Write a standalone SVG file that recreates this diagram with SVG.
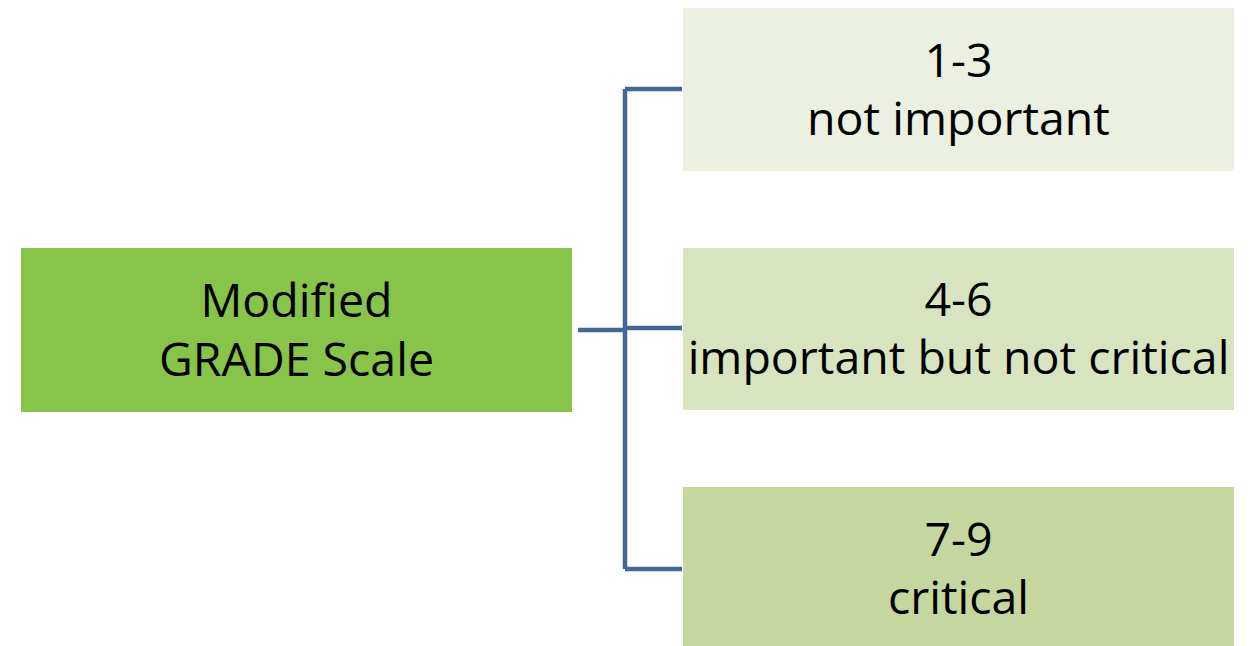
<svg xmlns="http://www.w3.org/2000/svg" width="1251" height="646" viewBox="0 0 1251 646">
<style>
.t{font-family:"Open Sans","Liberation Sans",sans-serif;font-size:46.5px;fill:#000;text-anchor:middle}
.c{fill:none;stroke:#416795;stroke-width:4.5}
</style>
<rect width="1251" height="646" fill="#fff"/>
<g id="connectors">
<path class="c" d="M578 330H625M625 89V569M625 89H682M625 328H682M625 569H682"/>
</g>
<g id="root">
<rect x="21" y="248" width="551" height="164" fill="#88C34A"/>
<text class="t" x="296.5" y="317">Modified</text>
<text class="t" x="296.5" y="376">GRADE Scale</text>
</g>
<g id="n1">
<rect x="683" y="8" width="551" height="163" fill="#EBF0E0"/>
<text class="t" x="958.5" y="77">1-3</text>
<text class="t" x="958.5" y="135">not important</text>
</g>
<g id="n2">
<rect x="683" y="248" width="551" height="162" fill="#D8E4C0"/>
<text class="t" x="958.5" y="316">4-6</text>
<text class="t" x="958.5" y="374">important but not critical</text>
</g>
<g id="n3">
<rect x="683" y="487" width="551" height="159" fill="#C5D69F"/>
<text class="t" x="958.5" y="556">7-9</text>
<text class="t" x="958.5" y="614">critical</text>
</g>
</svg>
